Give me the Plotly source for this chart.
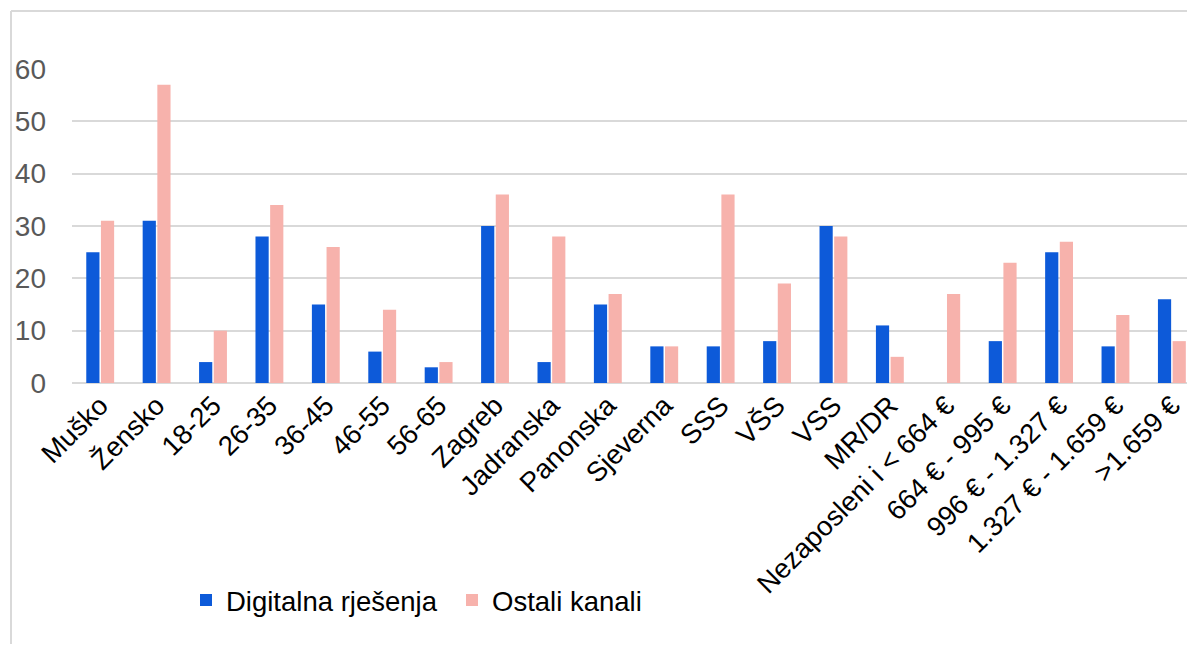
import plotly.graph_objects as go

categories = ["Muško", "Žensko", "18-25", "26-35", "36-45", "46-55", "56-65",
              "Zagreb", "Jadranska", "Panonska", "Sjeverna", "SSS", "VŠS", "VSS",
              "MR/DR", "Nezaposleni i < 664 €", "664 € - 995 €", "996 € - 1.327 €",
              "1.327 € - 1.659 €", ">1.659 €"]
digitalna = [25, 31, 4, 28, 15, 6, 3, 30, 4, 15, 7, 7, 8, 30, 11, 0, 8, 25, 7, 16]
ostali = [31, 57, 10, 34, 26, 14, 4, 36, 28, 17, 7, 36, 19, 28, 5, 17, 23, 27, 13, 8]
y_ticks = [0, 10, 20, 30, 40, 50, 60]

FONT = "Liberation Sans, Arial, sans-serif"
W, H = 1187, 636
L, T, B = 64, 61, 261
PH = H - T - B
PW = W - L

fig = go.Figure()
fig.add_trace(go.Bar(name="Digitalna rješenja", x=categories, y=digitalna,
                     marker=dict(color="#0d5ad9", line=dict(width=0))))
fig.add_trace(go.Bar(name="Ostali kanali", x=categories, y=ostali,
                     marker=dict(color="#f7b2ac", line=dict(width=0))))

fig.update_layout(
    width=W, height=H,
    margin=dict(l=L, r=0, t=T, b=B, pad=0, autoexpand=False),
    paper_bgcolor="white", plot_bgcolor="white",
    barmode="group", bargap=0.48, bargroupgap=0.1,
    font=dict(family=FONT, size=27, color="#000000"),
    legend=dict(orientation="h", xref="container", yref="container",
                x=178 / W, xanchor="left", y=1 - 592 / H, yanchor="middle",
                font=dict(size=27.5, color="#000000"), entrywidth=221,
                entrywidthmode="pixels"),
    xaxis=dict(range=[-0.5, 19.41], tickangle=-45, showgrid=False, automargin=False,
               showline=False, ticks="", tickfont=dict(size=27.5, color="#000000")),
    yaxis=dict(range=[0, 60], tickvals=y_ticks, showgrid=True, gridcolor="#d9d9d9",
               gridwidth=1.5, zeroline=True, zerolinecolor="#d9d9d9", zerolinewidth=1.5,
               automargin=False,
               showline=False, ticks="", tickfont=dict(size=28, color="#595959"),
               ticklabelstandoff=25),
    shapes=[
        dict(type="line", xref="paper", yref="paper", x0=(3 - L) / PW, x1=1.05,
             y0=1 + (T - 3) / PH, y1=1 + (T - 3) / PH, line=dict(color="#d9d9d9", width=2)),
        dict(type="line", xref="paper", yref="paper", x0=(3 - L) / PW, x1=(3 - L) / PW,
             y0=1 + (T - 3) / PH, y1=-1.0, line=dict(color="#d9d9d9", width=2)),
    ],
)

fig.write_html("out.html")
